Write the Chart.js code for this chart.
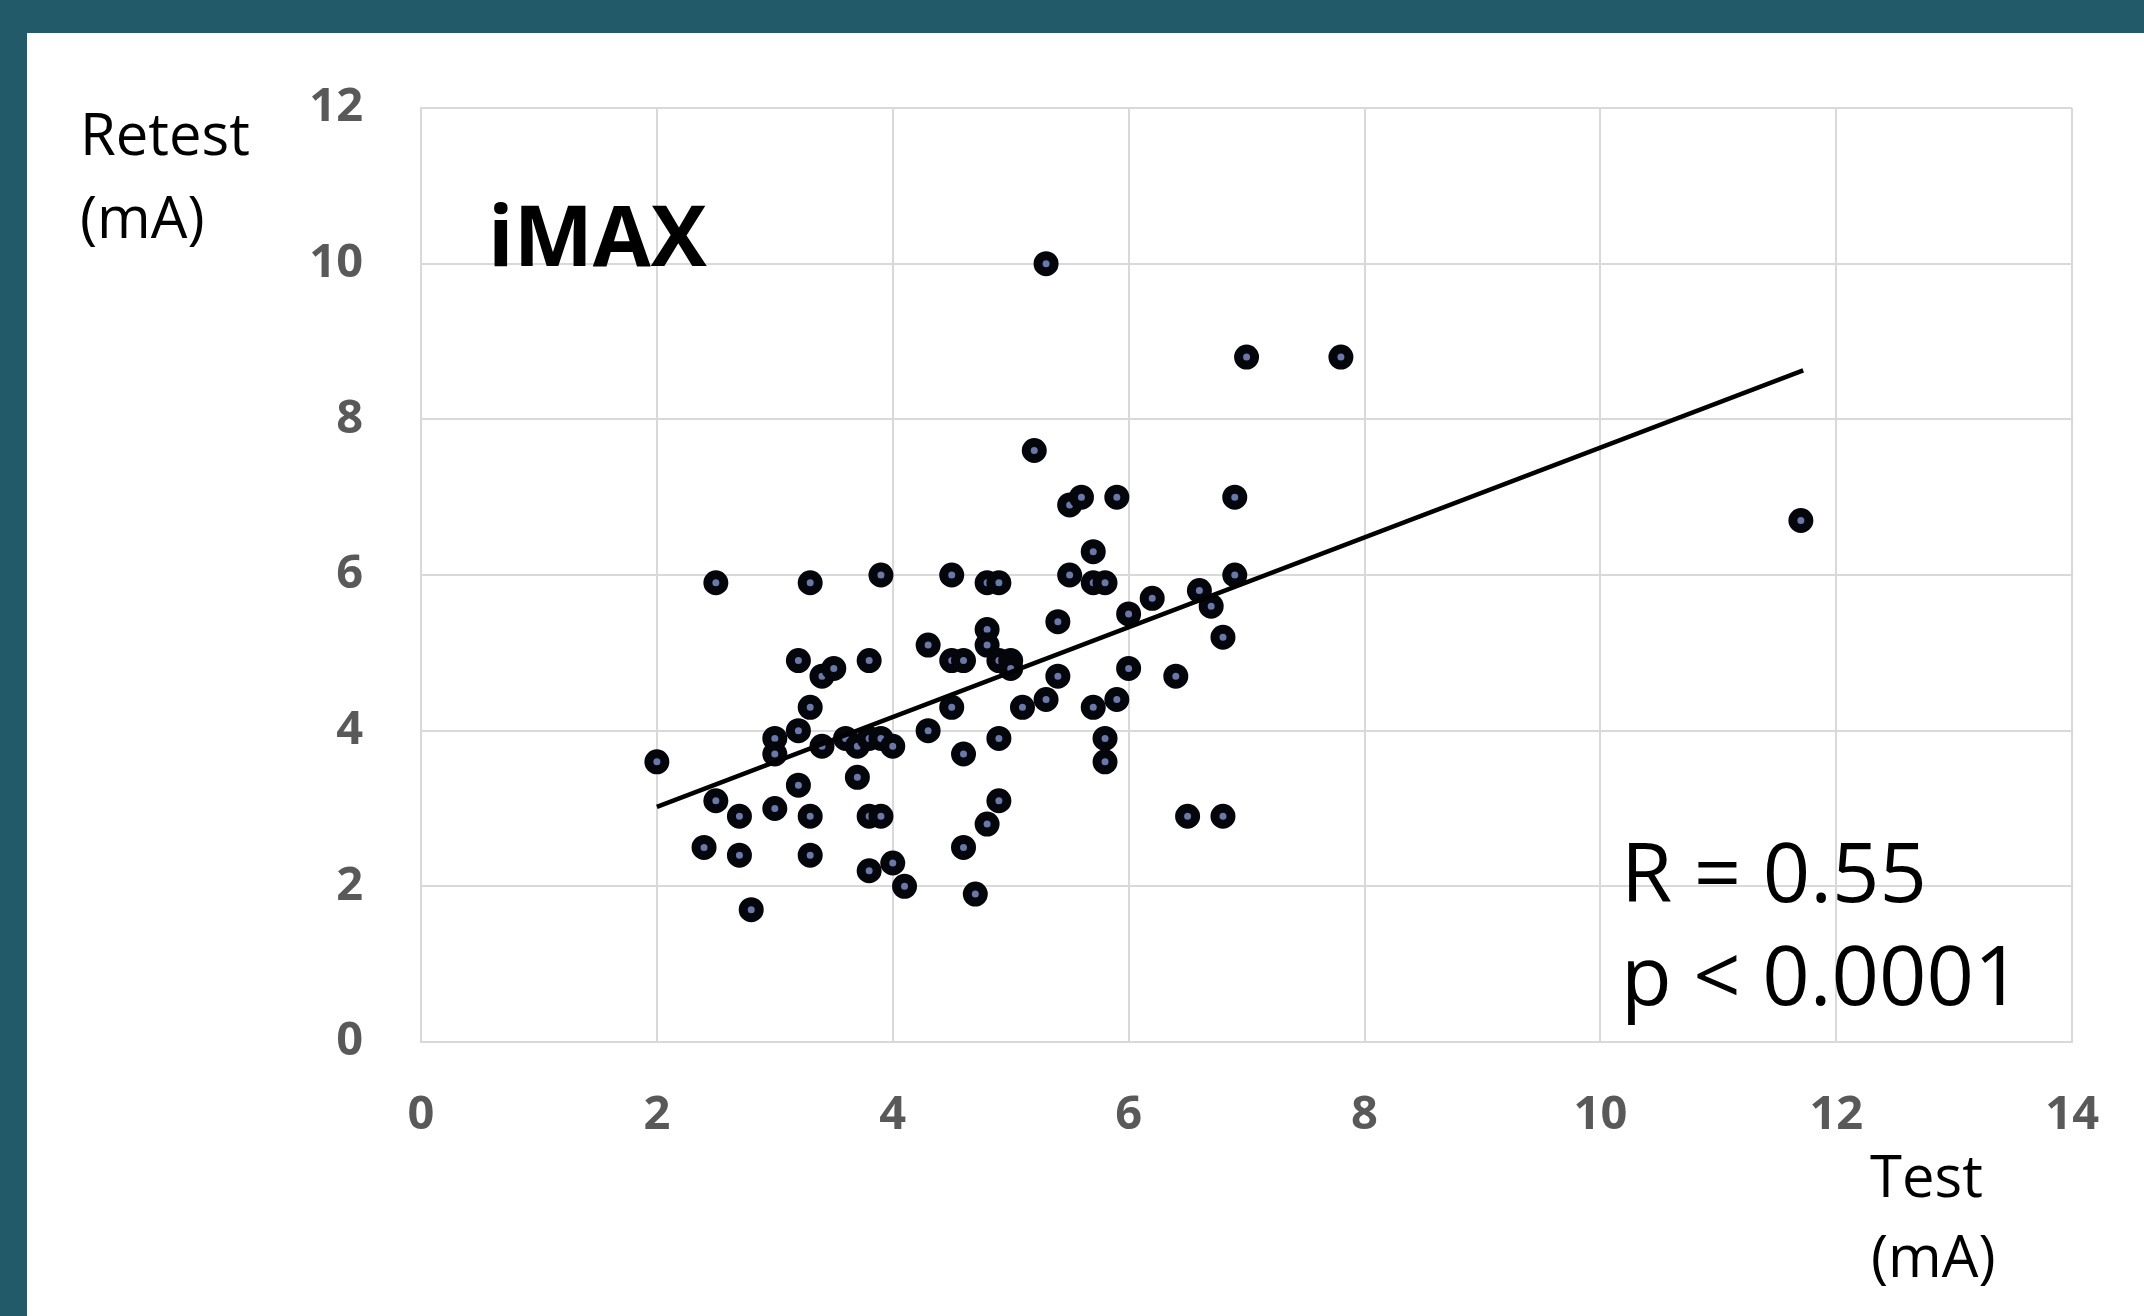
<!DOCTYPE html>
<html>
<head>
<meta charset="utf-8">
<script src="https://cdn.jsdelivr.net/npm/chart.js@4.4.1/dist/chart.umd.min.js"></script>
<style>
  html, body { margin: 0; padding: 0; }
  body { width: 2144px; height: 1316px; background: #235a69; position: relative; overflow: hidden; }
  #panel { position: absolute; left: 27px; top: 33px; width: 2117px; height: 1283px; background: #fff; }
  canvas { display: block; }
</style>
</head>
<body>
<div id="panel"><canvas id="chart" width="2117" height="1283"></canvas></div>
<script>
'use strict';

// test / retest values (mA)
const testValues = [
  2.0, 2.4, 2.5, 2.5, 2.7, 2.7, 2.8, 3.0, 3.0, 3.0,
  3.2, 3.2, 3.2, 3.3, 3.3, 3.3, 3.3, 3.4, 3.5, 3.4,
  3.6, 3.7, 3.7, 3.8, 3.8, 3.8, 3.8, 3.9, 3.9, 3.9,
  4.0, 4.0, 4.1, 4.3, 4.3, 4.5, 4.5, 4.5, 4.6, 4.6,
  4.6, 4.7, 4.8, 4.8, 4.8, 4.8, 4.9, 4.9, 4.9, 4.9,
  5.0, 5.0, 5.1, 5.2, 5.3, 5.3, 5.4, 5.4, 5.5, 5.6,
  5.5, 5.7, 5.7, 5.8, 5.7, 5.8, 5.8, 5.9, 5.9, 6.0,
  6.0, 6.2, 6.4, 6.5, 6.6, 6.7, 6.8, 6.8, 6.9, 6.9,
  7.0, 7.8, 11.7
];
const retestValues = [
  3.6, 2.5, 5.9, 3.1, 2.9, 2.4, 1.7, 3.9, 3.7, 3.0,
  4.9, 4.0, 3.3, 5.9, 4.3, 2.9, 2.4, 4.7, 4.8, 3.8,
  3.9, 3.8, 3.4, 4.9, 3.9, 2.9, 2.2, 6.0, 3.9, 2.9,
  3.8, 2.3, 2.0, 5.1, 4.0, 6.0, 4.9, 4.3, 4.9, 3.7,
  2.5, 1.9, 5.9, 5.3, 5.1, 2.8, 5.9, 4.9, 3.9, 3.1,
  4.9, 4.8, 4.3, 7.6, 10.0, 4.4, 5.4, 4.7, 6.9, 7.0,
  6.0, 6.3, 5.9, 5.9, 4.3, 3.9, 3.6, 7.0, 4.4, 5.5,
  4.8, 5.7, 4.7, 2.9, 5.8, 5.6, 5.2, 2.9, 7.0, 6.0,
  8.8, 8.8, 6.7
];

// trend line end points
const trendX = [2.0, 11.72];
const trendY = [3.02, 8.63];

const xTicks = [0, 2, 4, 6, 8, 10, 12, 14];
const yTicks = [0, 2, 4, 6, 8, 10, 12];

const points = testValues.map((x, i) => ({ x: x, y: retestValues[i] }));
const trend = trendX.map((x, i) => ({ x: x, y: trendY[i] }));

const gridColor = '#d9d9d9';
const tickColor = '#595959';

// free text on the canvas: axis captions, title, stats
const annotations = {
  id: 'annotations',
  afterDraw(chart) {
    const c = chart.ctx;
    c.save();
    c.fillStyle = '#000';
    c.textAlign = 'left';
    c.textBaseline = 'alphabetic';
    c.font = '58px "Open Sans"';
    c.fillText('Retest', 53, 122);
    c.fillText('(mA)', 53, 205);
    c.fillText('Test', 1843, 1164);
    c.fillText('(mA)', 1844, 1244);
    c.font = 'bold 84px "Open Sans"';
    c.fillText('iMAX', 461, 233);
    c.font = '83px "Open Sans"';
    c.fillText('R = 0.55', 1594, 869);
    c.fillText('p < 0.0001', 1594, 972);
    c.restore();
  }
};

new Chart(document.getElementById('chart'), {
  type: 'scatter',
  data: {
    datasets: [
      {
        type: 'line',
        label: 'trend',
        data: trend,
        borderColor: '#000',
        borderWidth: 4.5,
        pointRadius: 0,
        fill: false,
        order: 0,
      },
      {
        label: 'iMAX',
        data: points,
        pointRadius: 8,
        pointBorderWidth: 9,
        pointBorderColor: '#05050c',
        pointBackgroundColor: '#6878a8',
        order: 1,
      }
    ]
  },
  options: {
    responsive: false,
    animation: false,
    layout: {
      padding: { left: 0, right: 68, top: 75, bottom: 0 }
    },
    plugins: {
      legend: { display: false },
      tooltip: { enabled: false },
    },
    scales: {
      x: {
        type: 'linear',
        min: 0,
        max: 14,
        afterBuildTicks: (scale) => { scale.ticks = xTicks.map(v => ({ value: v })); },
        afterFit: (scale) => { scale.height = 274; },
        ticks: {
          color: tickColor,
          padding: 45,
          font: { family: 'Open Sans', size: 47, weight: 'bold' },
        },
        grid: { color: gridColor, lineWidth: 2, drawTicks: false },
        border: { color: gridColor, width: 2 },
      },
      y: {
        type: 'linear',
        min: 0,
        max: 12,
        afterBuildTicks: (scale) => { scale.ticks = yTicks.map(v => ({ value: v })); },
        afterFit: (scale) => {
          // fixed axis width; tick padding must not push the plot down
          scale.width = 394;
          scale.paddingTop = 0;
          scale.paddingBottom = 0;
        },
        ticks: {
          color: tickColor,
          padding: 58,
          font: { family: 'Open Sans', size: 47, weight: 'bold' },
        },
        grid: { color: gridColor, lineWidth: 2, drawTicks: false },
        border: { color: gridColor, width: 2 },
      }
    }
  },
  plugins: [annotations]
});
</script>
</body>
</html>
